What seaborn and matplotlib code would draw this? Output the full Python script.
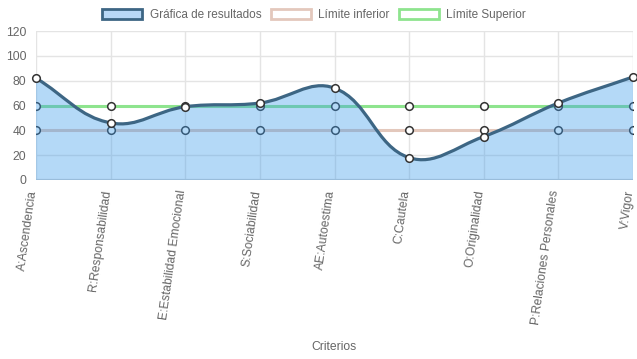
import matplotlib
matplotlib.use("Agg")
import matplotlib.pyplot as plt
import numpy as np
import pandas as pd
import seaborn as sns
from matplotlib.path import Path
from matplotlib.patches import PathPatch, Patch

# data
criterios = ['A:Ascendencia', 'R:Responsabilidad', 'E:Estabilidad Emocional',
             'S:Sociabilidad', 'AE:Autoestima', 'C:Cautela', 'O:Originalidad',
             'P:Relaciones Personales', 'V:Vigor']
resultados = [82, 46, 59, 62, 74, 18, 35, 62, 83]
limite_inferior = [40, 40, 40, 40, 40, 40, 40, 40, 40]
limite_superior = [60, 60, 60, 60, 60, 60, 60, 60, 60]

df = pd.DataFrame({'x': range(len(criterios)), 'res': resultados,
                   'inf': limite_inferior, 'sup': limite_superior})

sns.set_theme(style='whitegrid')
plt.rcParams['font.family'] = ['Liberation Sans', 'DejaVu Sans']

line_col = '#3d6684'
fill_col = (60 / 255, 155 / 255, 235 / 255, 0.38)
green = '#8ee48e'
beige = '#e3c8bc'
gray_txt = '#666666'
fs = 8.7

fig = plt.figure(figsize=(6.37, 3.59), dpi=100)
ax = fig.add_axes([36 / 637, 1 - 180 / 359, 597 / 637, 149 / 359])
ax.set_xlim(0, len(criterios) - 1)
ax.set_ylim(0, 120)

# limit lines (drawn below the fill)
sns.lineplot(data=df, x='x', y='inf', ax=ax, color=beige, lw=2.2, zorder=2,
             marker='o', markersize=5.5, markerfacecolor='white',
             markeredgecolor='#333333', markeredgewidth=1.1)
sns.lineplot(data=df, x='x', y='sup', ax=ax, color=green, lw=2.2, zorder=2,
             marker='o', markersize=5.5, markerfacecolor='white',
             markeredgecolor='#333333', markeredgewidth=1.1)

# smooth curve like Chart.js (tension 0.4), computed in pixel space
fig.canvas.draw()
pts = ax.transData.transform(np.column_stack([df['x'], df['res']]))
n = len(pts)
verts = [pts[0]]
codes = [Path.MOVETO]
cps = []
t = 0.4
for i in range(n):
    prev = pts[max(i - 1, 0)]
    cur = pts[i]
    nxt = pts[min(i + 1, n - 1)]
    d01 = np.hypot(*(cur - prev))
    d12 = np.hypot(*(nxt - cur))
    tot = d01 + d12
    s01 = d01 / tot if tot else 0
    s12 = d12 / tot if tot else 0
    cps.append((cur - t * s01 * (nxt - prev), cur + t * s12 * (nxt - prev)))
for i in range(1, n):
    verts += [cps[i - 1][1], cps[i][0], pts[i]]
    codes += [Path.CURVE4] * 3
inv = ax.transData.inverted()
verts = inv.transform(np.array(verts))
curve = Path(verts, codes)

fill_verts = np.vstack([verts, [[n - 1, 0], [0, 0], [0, 0]]])
fill_codes = codes + [Path.LINETO, Path.LINETO, Path.CLOSEPOLY]
ax.add_patch(PathPatch(Path(fill_verts, fill_codes), facecolor=fill_col,
                       edgecolor='none', zorder=3))
ax.add_patch(PathPatch(curve, facecolor='none', edgecolor=line_col, lw=2.3,
                       zorder=4, capstyle='round', joinstyle='round'))
sns.scatterplot(data=df, x='x', y='res', ax=ax, s=30, color='white',
                edgecolor='#333333', linewidth=1.1, zorder=5, clip_on=False)

# axes styling
ax.axhline(0, color='#d2d2d2', lw=1.6, zorder=1)
ax.set_yticks(range(0, 121, 20))
ax.set_xticks(range(len(criterios)))
ax.set_xticklabels(criterios, rotation=82, ha='right', va='baseline',
                   rotation_mode='anchor')
ax.grid(True, color='#e4e4e4', lw=1)
ax.tick_params(axis='both', colors='#e0e0e0', labelcolor=gray_txt,
               labelsize=fs, length=6, width=1, direction='out')
ax.tick_params(axis='x', pad=1.5)
ax.tick_params(axis='y', pad=1)
for s in ax.spines.values():
    s.set_visible(False)
ax.set_xlabel('')
ax.set_ylabel('')
fig.text(334 / 637, 1 - 347 / 359, 'Criterios', color=gray_txt, fontsize=fs,
         ha='center', va='center')

handles = [Patch(facecolor='#b8d8f6', edgecolor=line_col, lw=2),
           Patch(facecolor='white', edgecolor=beige, lw=2),
           Patch(facecolor='white', edgecolor=green, lw=2)]
labels = ['Gráfica de resultados', 'Límite inferior', 'Límite Superior']
fig.legend(handles, labels, loc='center', bbox_to_anchor=(314 / 637, 1 - 15 / 359),
           ncol=3, frameon=False, fontsize=8.5, labelcolor=gray_txt,
           handlelength=3.4, handleheight=0.97, handletextpad=0.6,
           columnspacing=0.8, borderpad=0)

fig.savefig('out.png', dpi=100)
